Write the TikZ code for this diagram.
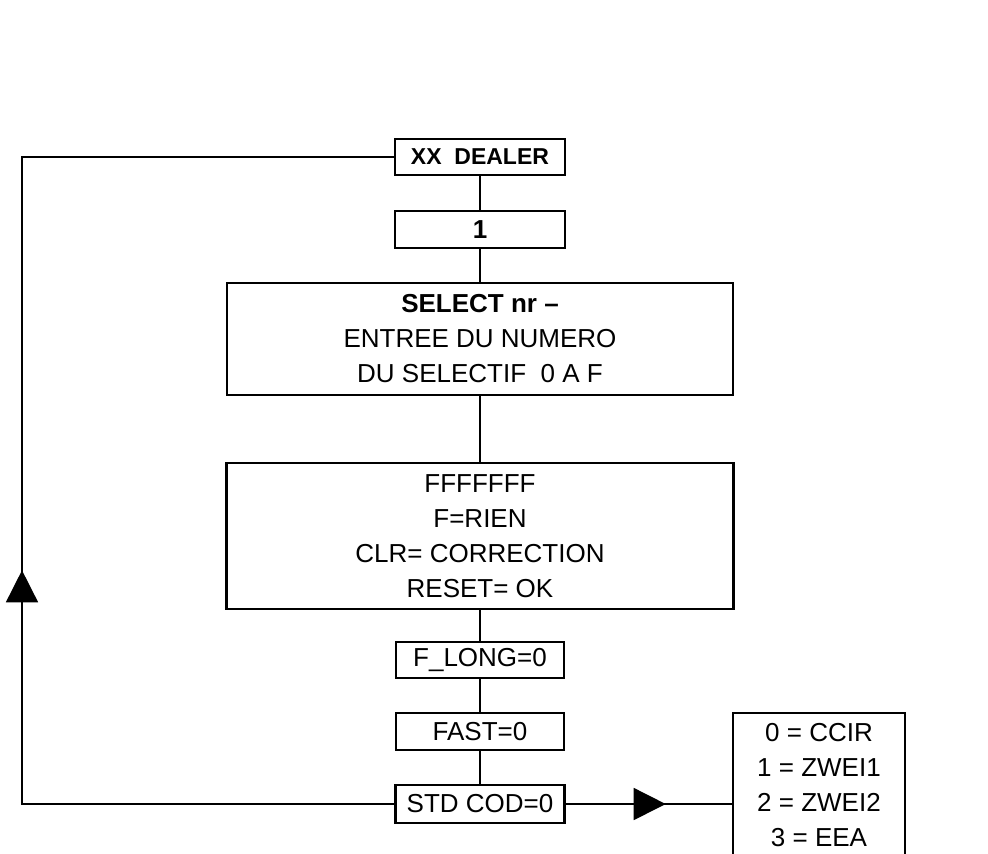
\documentclass[tikz,border=0pt]{standalone}
\usepackage{fontspec}
\setmainfont{Liberation Sans}
\usetikzlibrary{arrows.meta,decorations.markings,positioning}

\tikzset{
	boite/.style={draw, line width=1.2pt, inner sep=0pt, align=center,
		font=\fontsize{13pt}{17.5pt}\selectfont},
	lien/.style={line width=0.8pt},
	pointe/.style={decoration={markings,
		mark=at position #1 with {\arrow{Triangle[length=16pt,width=16pt]}}},
		postaction={decorate}}
}

\begin{document}
\begin{tikzpicture}[x=0.5pt,y=-0.5pt]
	
	\useasboundingbox (0,0) rectangle (988,853);
	
	% colonne centrale
	\node[boite, minimum width=85pt, minimum height=18pt, font=\fontsize{11.5pt}{14pt}\selectfont\bfseries] (dealer) at (480,157) {XX\ \ DEALER};
	\node[boite, minimum width=85pt, minimum height=18.5pt] (un) at (480,229.5) {\textbf{1}};
	\node[boite, minimum width=253pt, minimum height=56pt] (select) at (480,339)
		{\textbf{SELECT nr --}\\ENTREE DU NUMERO\\DU SELECTIF\ \ 0 A F};
	\node[boite, minimum width=253.5pt, minimum height=73pt] (reset) at (480,536)
		{FFFFFFF\\F=RIEN\\CLR= CORRECTION\\RESET= OK};
	\node[boite, minimum width=84pt, minimum height=18pt] (flong) at (480,660) {F\_LONG=0};
	\node[boite, minimum width=84pt, minimum height=18.5pt] (fast) at (480,731.5) {FAST=0};
	\node[boite, minimum width=84.5pt, minimum height=19pt] (stdcod) at (480,804) {STD COD=0};
	
	% choix du code
	\node[boite, minimum width=86pt, minimum height=72.5pt] (codes) at (819,785.5)
		{0 = CCIR\\1 = ZWEI1\\2 = ZWEI2\\3 = EEA};
	
	\foreach \a/\b in {dealer/un,un/select,select/reset,reset/flong,flong/fast,fast/stdcod}
		\draw[lien] (\a) -- (\b);
	
	\draw[lien, pointe=50pt] (stdcod.east) -- (stdcod.east -| codes.west);
	
	% retour
	\coordinate (retour) at (22,157);
	\draw[lien, pointe=303pt] (stdcod.west) -| (retour) -- (dealer.west);
	
\end{tikzpicture}
\end{document}
